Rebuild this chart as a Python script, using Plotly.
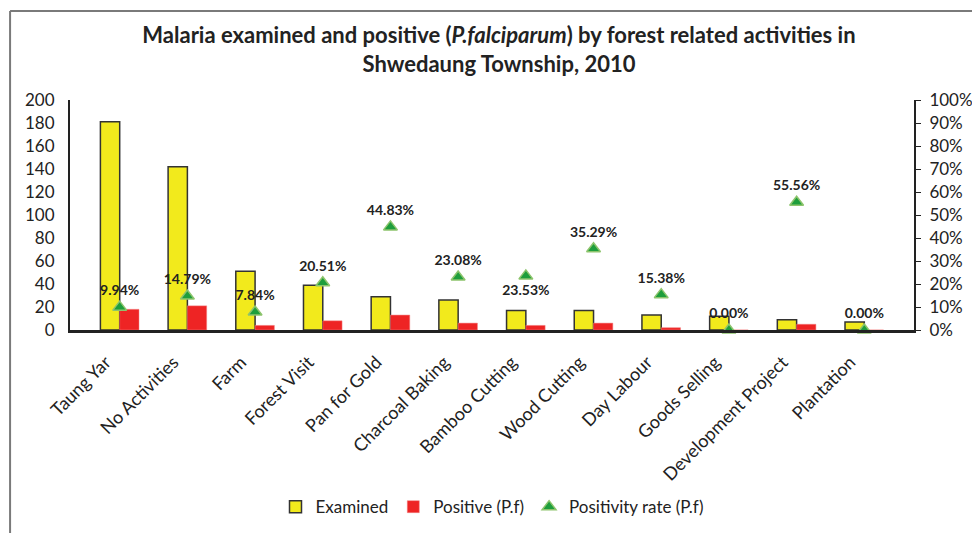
"""Malaria examined / positive by forest related activities, Shwedaung 2010."""

import plotly.graph_objects as go

categories = [
    "Taung Yar", "No Activities", "Farm", "Forest Visit", "Pan for Gold",
    "Charcoal Baking", "Bamboo Cutting", "Wood Cutting", "Day Labour",
    "Goods Selling", "Development Project", "Plantation",
]
examined = [181, 142, 51, 39, 29, 26, 17, 17, 13, 12, 9, 7]
positive = [18, 21, 4, 8, 13, 6, 4, 6, 2, 0, 5, 0]
positivity_pct = [9.94, 14.79, 7.84, 20.51, 44.83, 23.08, 23.53, 35.29, 15.38, 0.00, 55.56, 0.00]
left_ticks = [0, 20, 40, 60, 80, 100, 120, 140, 160, 180, 200]
right_ticks = [0, 0.1, 0.2, 0.3, 0.4, 0.5, 0.6, 0.7, 0.8, 0.9, 1.0]

FONT = "Lato"
TEXT = "#222222"

rate = [p / 100 for p in positivity_pct]
label_pos = ["bottom center" if c == "Bamboo Cutting" else "top center" for c in categories]

fig = go.Figure()

fig.add_trace(
    go.Bar(
        x=categories,
        y=examined,
        name="Examined",
        marker=dict(color="#F2EA1C", line=dict(color="#333333", width=1.5)),
    )
)
fig.add_trace(
    go.Bar(
        x=categories,
        y=positive,
        name="Positive (P.f)",
        marker=dict(color="#EE2424", line=dict(color="#F28080", width=0.5)),
    )
)
fig.add_trace(
    go.Scatter(
        x=categories,
        y=rate,
        yaxis="y2",
        name="Positivity rate (P.f)",
        mode="markers+text",
        marker=dict(symbol="triangle-up", size=12, color="#1E9E3C",
                    line=dict(color="#8DC46C", width=1.5)),
        text=[f"{p:.2f}%" for p in positivity_pct],
        textposition=label_pos,
        textfont=dict(family=FONT, size=14, color=TEXT, weight="bold"),
        cliponaxis=False,
    )
)

# the page body adds an 8px offset, so margins are trimmed on the left/top
fig.update_layout(
    width=980,
    height=533,
    paper_bgcolor="white",
    plot_bgcolor="white",
    margin=dict(l=62, r=74, t=92, b=211),
    barmode="group",
    bargap=0.43,
    bargroupgap=0,
    font=dict(family=FONT, color=TEXT),
    title=dict(
        text="Malaria examined and positive (<i>P.falciparum</i>) by forest related activities in"
             "<br>Shwedaung Township, 2010",
        x=0.501,
        xanchor="center",
        y=0.934,
        yanchor="middle",
        font=dict(family=FONT, size=22, color=TEXT, weight="bold"),
    ),
    xaxis=dict(
        tickangle=-45,
        tickfont=dict(family=FONT, size=18, color=TEXT),
        ticklabelshift=-14,
        ticklabelstandoff=12,
        showline=True,
        linecolor="#222222",
        linewidth=2.5,
        ticks="",
        showgrid=False,
        automargin=False,
    ),
    yaxis=dict(
        range=[0, 200],
        tickvals=left_ticks,
        tickfont=dict(family=FONT, size=17, color=TEXT),
        ticklabelstandoff=10,
        showline=True,
        linecolor="#222222",
        linewidth=2,
        ticks="",
        showgrid=False,
        zeroline=False,
        automargin=False,
    ),
    yaxis2=dict(
        overlaying="y",
        side="right",
        range=[0, 1],
        tickvals=right_ticks,
        tickformat=".0%",
        tickfont=dict(family=FONT, size=17, color=TEXT),
        ticklabelstandoff=5,
        showline=True,
        linecolor="#222222",
        linewidth=2,
        ticks="outside",
        ticklen=5,
        tickcolor="#222222",
        showgrid=False,
        zeroline=False,
        automargin=False,
    ),
    legend=dict(
        orientation="h",
        x=0.5,
        xanchor="center",
        y=-0.77,
        yanchor="middle",
        font=dict(family=FONT, size=17, color=TEXT),
        itemwidth=30,
    ),
)

# outer frame like the source figure (top and left edges fall inside the page)
fig.add_shape(
    type="line",
    xref="paper",
    yref="paper",
    x0=-0.071,
    x1=1.081,
    y0=1.387,
    y1=1.387,
    line=dict(color="#7a7a7a", width=2),
    layer="above",
)
fig.add_shape(
    type="line",
    xref="paper",
    yref="paper",
    x0=-0.071,
    x1=-0.071,
    y0=-0.89,
    y1=1.387,
    line=dict(color="#7a7a7a", width=2),
    layer="above",
)

fig.write_html("out.html")
